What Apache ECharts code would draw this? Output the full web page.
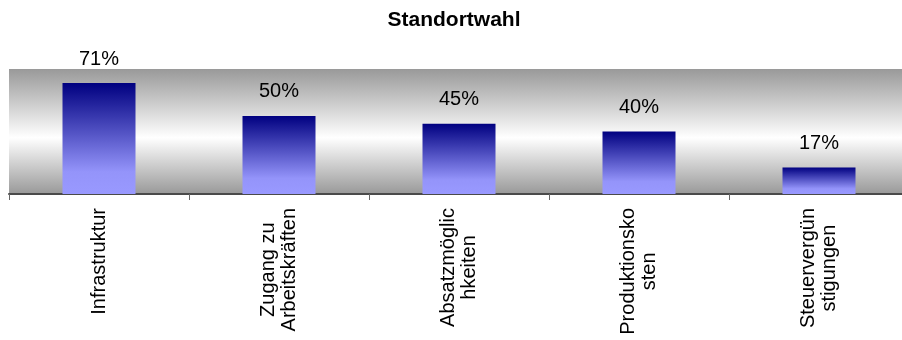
<!DOCTYPE html>
<html>
<head>
<meta charset="utf-8">
<script src="https://cdn.jsdelivr.net/npm/echarts@6/dist/echarts.min.js"></script>
<style>html,body{margin:0;padding:0;background:#fff;}#c{width:902px;height:340px;}</style>
</head>
<body>
<div id="c"></div>
<script>
const titleText = 'Standortwahl';
const categories = ['Infrastruktur', 'Zugang zu\nArbeitskräften', 'Absatzmöglic\nhkeiten', 'Produktionsko\nsten', 'Steuervergün\nstigungen'];
const values = [71, 50, 45, 40, 17];
const yMin = 0, yMax = 80;

const FONT = 'Liberation Sans';
const chart = echarts.init(document.getElementById('c'), null, {renderer: 'canvas'});
chart.setOption({
  animation: false,
  title: {
    text: titleText,
    left: 449, top: 5, textAlign: 'center',
    textStyle: {fontFamily: FONT, fontSize: 21, fontWeight: 'bold', color: '#000'}
  },
  grid: {
    left: 9, width: 900, top: 69, height: 125,
    outerBoundsMode: 'none', containLabel: false,
    show: true, borderWidth: 0,
    backgroundColor: new echarts.graphic.LinearGradient(0, 0, 0, 1, [
      {offset: 0, color: '#999999'},
      {offset: 0.55, color: '#ffffff'},
      {offset: 1, color: '#999999'}
    ])
  },
  xAxis: {
    type: 'category',
    data: categories,
    axisLine: {show: true, lineStyle: {color: '#4a4a4a', width: 2}},
    axisTick: {show: true, length: 6, lineStyle: {color: '#666666', width: 1}},
    axisLabel: {
      rotate: 90, margin: 14, interval: 0,
      fontFamily: FONT, fontSize: 20, color: '#000',
      formatter: v => v.split('\n').map(s => '{c|' + s + '}').join('\n'),
      rich: {c: {align: 'center', fontFamily: FONT, fontSize: 20, lineHeight: 21, color: '#000'}}
    }
  },
  yAxis: {type: 'value', min: yMin, max: yMax, show: false, splitLine: {show: false}},
  series: [{
    type: 'bar',
    data: values,
    barWidth: 73,
    itemStyle: {
      color: new echarts.graphic.LinearGradient(0, 0, 0, 1, [
        {offset: 0, color: '#000080'},
        {offset: 0.8, color: '#9494fa'},
        {offset: 1, color: '#9999ff'}
      ])
    },
    label: {
      show: true, position: 'top', distance: 14,
      formatter: p => p.value + '%',
      fontFamily: FONT, fontSize: 20, color: '#000'
    }
  }]
});
</script>
</body>
</html>
